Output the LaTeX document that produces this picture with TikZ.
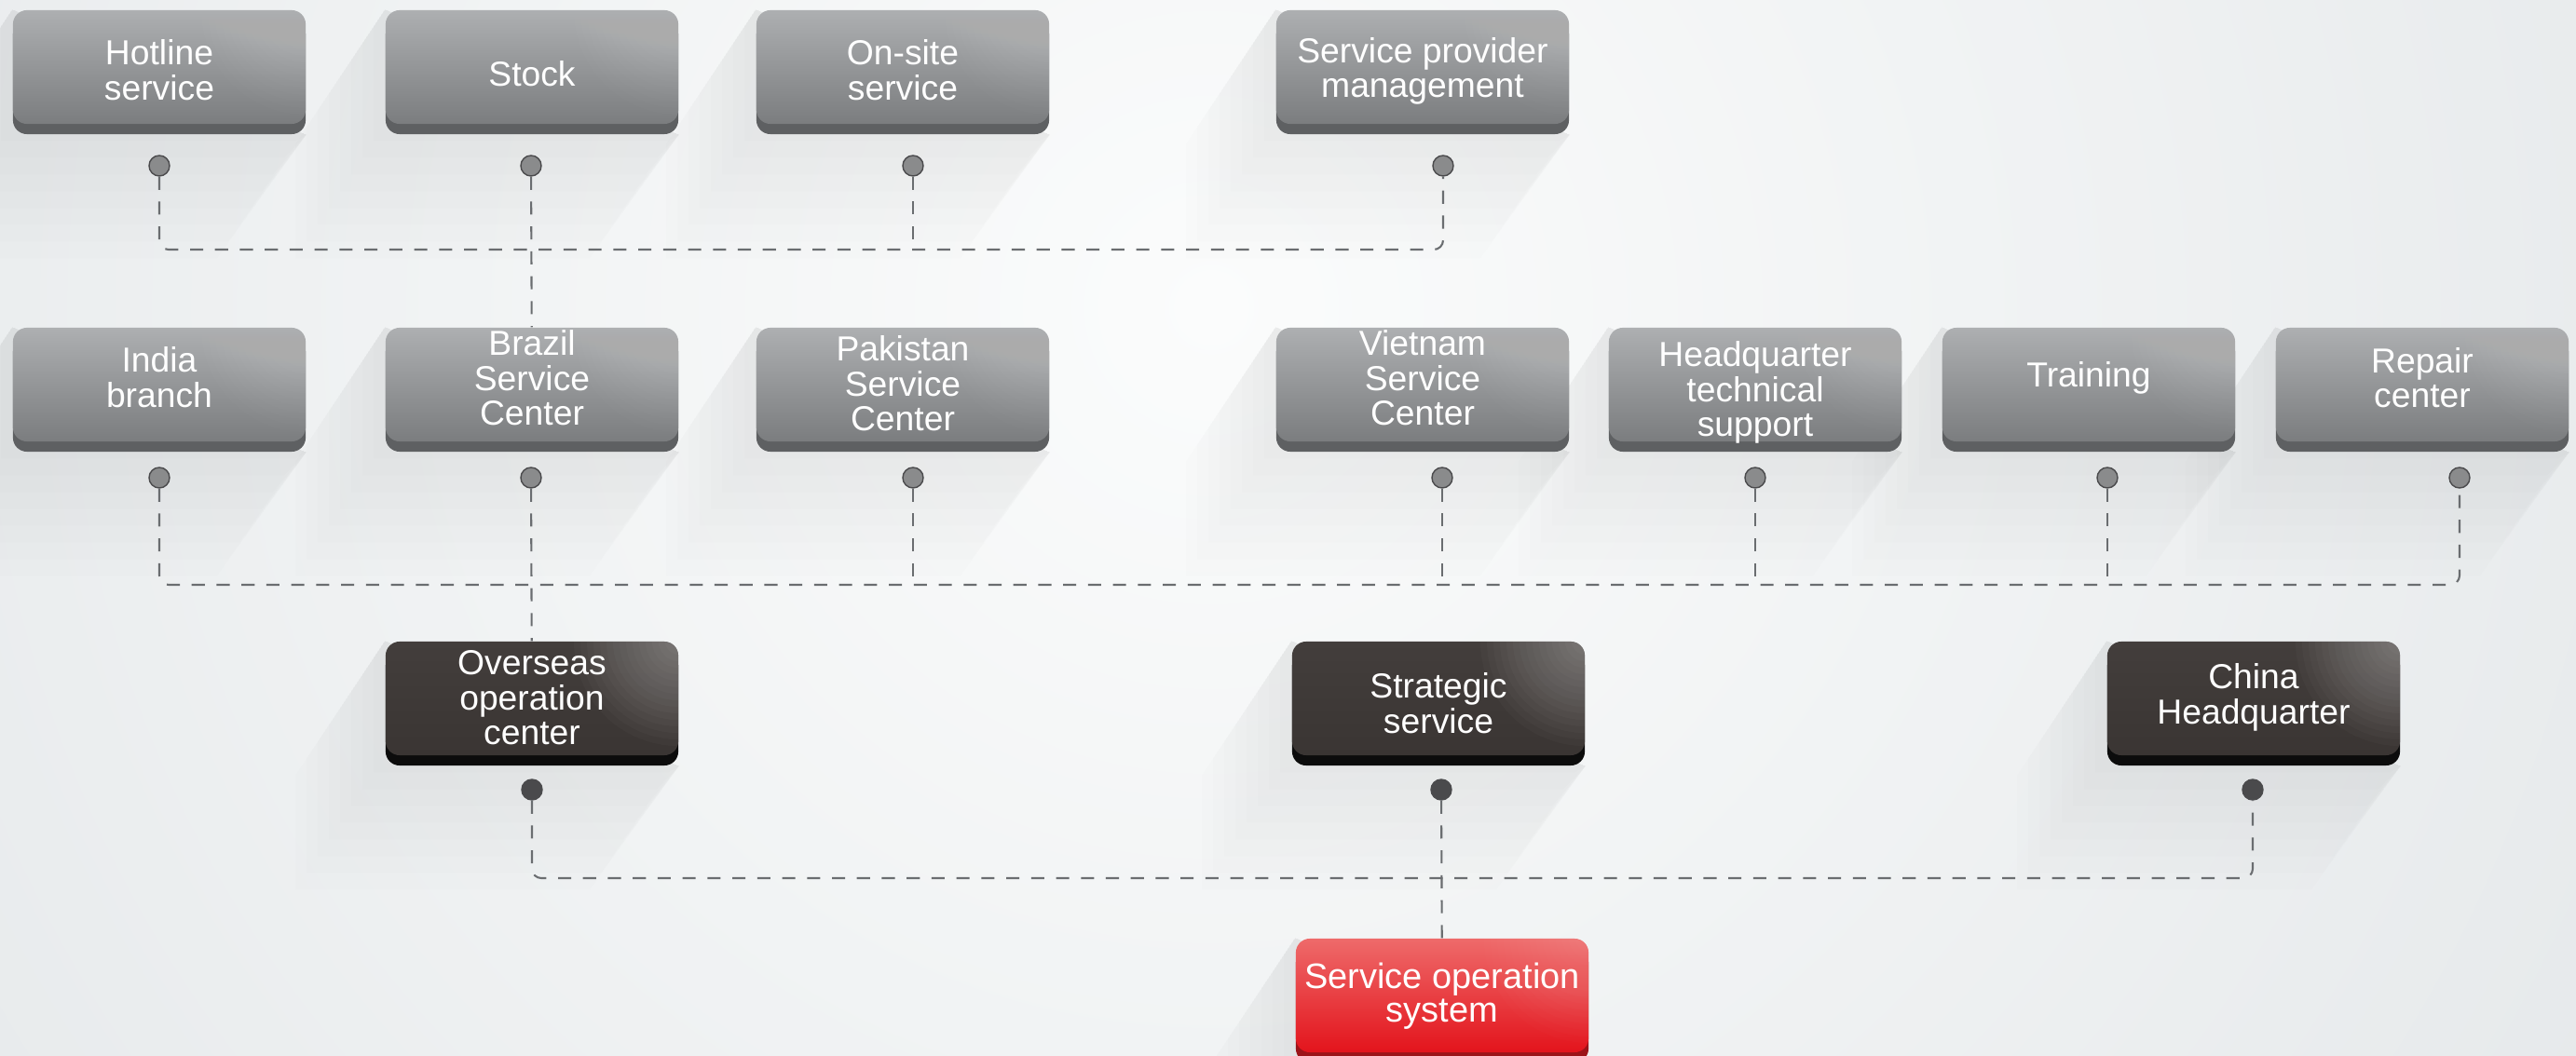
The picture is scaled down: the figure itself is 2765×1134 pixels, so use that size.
\documentclass[tikz,border=0pt]{standalone}
\usepackage{fontspec}
\setmainfont{Liberation Sans}
\pgfdeclarelayer{backdrop}
\pgfdeclarelayer{shade}
\pgfsetlayers{backdrop,shade,main}
\definecolor{bgc}{HTML}{D6DBDE}
\definecolor{bgin}{HTML}{FBFCFC}
\definecolor{grayt}{HTML}{ADAFB1}
\definecolor{grayb}{HTML}{7B7D7F}
\definecolor{graylip}{HTML}{5E6062}
\definecolor{darkt}{HTML}{433E3C}
\definecolor{darkb}{HTML}{3A3533}
\definecolor{darklip}{HTML}{0C0C0C}
\definecolor{redt}{HTML}{EE6A6A}
\definecolor{redb}{HTML}{E3141C}
\definecolor{redlip}{HTML}{9C1419}
\definecolor{linec}{HTML}{6A6D70}
\definecolor{dotc}{HTML}{8A8B8C}
\definecolor{dotdk}{HTML}{4A4A4C}
\newlength\pxu
\setlength\pxu{0.01cm}
\newcommand{\btext}[2]{\raisebox{-#1\pxu}[0pt][0pt]{\begin{tabular}[b]{@{}c@{}}#2\end{tabular}}}

\begin{document}
\begin{tikzpicture}[x=0.01cm, y=-0.01cm,
    every node/.style={font=\fontsize{10.6}{10.6}\selectfont, text=white},
    btn/.style={rounded corners=0.15cm, minimum width=3.14cm, minimum height=1.22cm, inner sep=0pt,
        path picture={\foreach \r in {1,...,16}
            \fill[white, opacity=#1] (path picture bounding box.north east) circle (\r*0.07cm);}},
    graybox/.style={btn=0.012, top color=grayt, bottom color=grayb,
        preaction={fill=graylip, transform canvas={yshift=-0.11cm}}},
    darkbox/.style={btn=0.024, top color=darkt, bottom color=darkb,
        preaction={fill=darklip, transform canvas={yshift=-0.11cm}}},
    redbox/.style={btn=0.01, top color=redt, bottom color=redb,
        preaction={fill=redlip, transform canvas={yshift=-0.11cm}}},
    dot/.style={circle, draw=dotdk, fill=dotc, line width=0.4pt, inner sep=0pt, minimum size=0.22cm},
    dotdark/.style={dot, fill=dotdk},
    link/.style={draw=linec, line width=0.6pt, dash pattern=on 4pt off 3.6pt, rounded corners=0.1cm}]
    \useasboundingbox (0,0) rectangle (2765,1134);

    \node[graybox] (hot) at (171,72) {\btext{36}{Hotline\\service}};
    \node[graybox] (stock) at (571,72) {\btext{21}{Stock}};
    \node[graybox] (onsite) at (969,72) {\btext{36}{On-site\\service}};
    \node[graybox] (prov) at (1527,72) {\btext{33}{Service provider\\management}};

    \node[graybox] (india) at (171,413) {\btext{25}{India\\branch}};
    \node[graybox] (brazil) at (571,413) {\btext{44}{Brazil\\Service\\Center}};
    \node[graybox] (pak) at (969,413) {\btext{50}{Pakistan\\Service\\Center}};
    \node[graybox] (viet) at (1527,413) {\btext{44}{Vietnam\\Service\\Center}};
    \node[graybox] (hq) at (1884,413) {\btext{56}{Headquarter\\technical\\support}};
    \node[graybox] (train) at (2242,413) {\btext{3}{Training}};
    \node[graybox] (repair) at (2600,413) {\btext{25}{Repair\\center}};

    \node[darkbox] (overseas) at (571,750) {\btext{50}{Overseas\\operation\\center}};
    \node[darkbox] (strat) at (1544,750) {\btext{38}{Strategic\\service}};
    \node[darkbox] (china) at (2419,750) {\btext{28}{China\\Headquarter}};

    \node[redbox, font=\fontsize{10.8}{10.4}\selectfont] (sos) at (1548,1069) {\btext{29}{Service operation\\system}};

    \node[dot] (hotd) at (171,178) {};
    \node[dot] (stockd) at (570,178) {};
    \node[dot] (onsited) at (980,178) {};
    \node[dot] (provd) at (1549,178) {};
    \node[dot] (indiad) at (171,513) {};
    \node[dot] (brazild) at (570,513) {};
    \node[dot] (pakd) at (980,513) {};
    \node[dot] (vietd) at (1548,513) {};
    \node[dot] (hqd) at (1884,513) {};
    \node[dot] (traind) at (2262,513) {};
    \node[dot] (repaird) at (2640,513) {};
    \node[dotdark] (overseasd) at (571,848) {};
    \node[dotdark] (stratd) at (1547,848) {};
    \node[dotdark] (chinad) at (2418,848) {};

    \coordinate (bus1) at (0,268);
    \coordinate (bus2) at (0,628);
    \coordinate (bus3) at (0,943);

    \draw[link] (hotd) |- (provd |- bus1) -- (provd);
    \draw[link] (onsited) -- (onsited |- bus1);
    \draw[link] (stockd) -- (brazil);
    \draw[link] (indiad) |- (repaird |- bus2) -- (repaird);
    \foreach \d in {pakd,vietd,hqd,traind}
        \draw[link] (\d) -- (\d |- bus2);
    \draw[link] (brazild) -- (overseas);
    \draw[link] (overseasd) |- (chinad |- bus3) -- (chinad);
    \draw[link] (stratd) -- (sos);

    \begin{pgfonlayer}{backdrop}
        \clip (0,0) rectangle (2765,1134);
        \shade[inner color=bgin, outer color=bgc] (1300,330) circle (30cm);
    \end{pgfonlayer}
    \begin{pgfonlayer}{shade}
        \foreach \b in {hot,stock,onsite,prov,india,brazil,pak,viet,hq,train,repair,overseas,strat,china,sos}
            \foreach \k in {1,...,8}
                \fill[black, opacity=0.007] (\b.north west) -- ++(-\k*12,\k*18)
                    -- ([shift={(-\k*12,\k*18)}]\b.south west) -- ([shift={(-\k*12,\k*18)}]\b.south east)
                    -- ([yshift=-0.11cm]\b.south east) -- cycle;
    \end{pgfonlayer}
\end{tikzpicture}
\end{document}
